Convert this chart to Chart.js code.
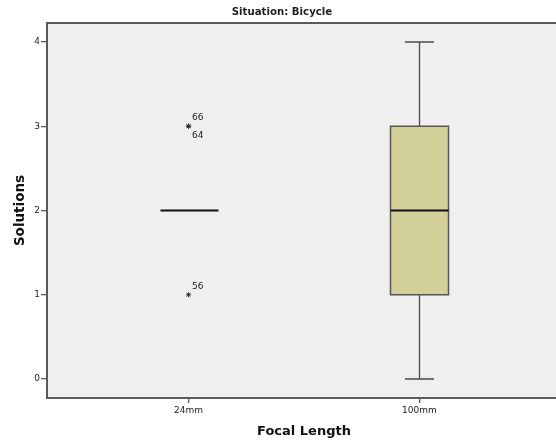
<!DOCTYPE html>
<html>
<head>
<meta charset="utf-8">
<script src="https://cdn.jsdelivr.net/npm/chart.js@4/dist/chart.umd.min.js"></script>
<style>
  html, body { margin: 0; padding: 0; background: #fff; overflow: hidden; }
  #wrap { position: absolute; left: 0; top: 0; width: 566px; height: 441px; }
</style>
</head>
<body>
<div id="wrap"><canvas id="c" width="566" height="441"></canvas></div>
<script>
// Box plot summary per focal length
const categories = ['24mm', '100mm'];
const whiskerLow = [2, 0];
const q1 = [2, 1];
const medians = [2, 2];
const q3 = [2, 3];
const whiskerHigh = [2, 4];

// Outlying cases (category index, value, case number)
const outlierGroup = [0, 0, 0];
const outlierValues = [3, 3, 1];
const outlierCases = ['66', '64', '56'];

const yTicks = [0, 1, 2, 3, 4];

const chartTitle = 'Situation: Bicycle';
const xTitle = 'Focal Length';
const yTitle = 'Solutions';

const FONT = "'DejaVu Sans', 'Liberation Sans', sans-serif";
const BOX_HALF = 29;
const CAP_HALF = 14.5;

const boxPlugin = {
  id: 'boxPlot',
  beforeDraw(chart) {
    const { ctx, chartArea: a } = chart;
    ctx.save();
    ctx.fillStyle = '#efefef';
    ctx.fillRect(a.left, a.top, a.right - a.left, a.bottom - a.top);
    ctx.restore();
  },
  beforeDatasetsDraw(chart) {
    const { ctx, scales: { x, y } } = chart;
    ctx.save();
    categories.forEach((c, i) => {
      const cx = Math.round(x.getPixelForValue(i)) + 0.5;
      const pLo = y.getPixelForValue(whiskerLow[i]);
      const pQ1 = y.getPixelForValue(q1[i]);
      const pMed = y.getPixelForValue(medians[i]);
      const pQ3 = y.getPixelForValue(q3[i]);
      const pHi = y.getPixelForValue(whiskerHigh[i]);
      ctx.strokeStyle = '#4a4a4a';
      ctx.lineWidth = 1.3;
      if (whiskerHigh[i] > q3[i]) {
        ctx.beginPath();
        ctx.moveTo(cx, pQ3); ctx.lineTo(cx, pHi);
        ctx.moveTo(cx - CAP_HALF, pHi); ctx.lineTo(cx + CAP_HALF, pHi);
        ctx.stroke();
      }
      if (whiskerLow[i] < q1[i]) {
        ctx.beginPath();
        ctx.moveTo(cx, pQ1); ctx.lineTo(cx, pLo);
        ctx.moveTo(cx - CAP_HALF, pLo); ctx.lineTo(cx + CAP_HALF, pLo);
        ctx.stroke();
      }
      if (q3[i] > q1[i]) {
        ctx.fillStyle = 'rgb(211,207,152)';
        ctx.fillRect(cx - BOX_HALF, pQ3, BOX_HALF * 2, pQ1 - pQ3);
        ctx.strokeStyle = '#555';
        ctx.lineWidth = 1.5;
        ctx.strokeRect(cx - BOX_HALF, pQ3, BOX_HALF * 2, pQ1 - pQ3);
      }
      ctx.strokeStyle = '#111';
      ctx.lineWidth = 2;
      ctx.beginPath();
      ctx.moveTo(cx - BOX_HALF, pMed); ctx.lineTo(cx + BOX_HALF, pMed);
      ctx.stroke();
    });
    ctx.restore();
  },
  afterDatasetsDraw(chart) {
    const { ctx, chartArea: a, scales: { x, y } } = chart;
    ctx.save();
    // case numbers next to outliers; repeated values stack above/below
    const seen = {};
    ctx.font = '9px ' + FONT;
    ctx.fillStyle = '#222';
    ctx.textBaseline = 'middle';
    ctx.textAlign = 'left';
    outlierCases.forEach((label, i) => {
      const key = outlierGroup[i] + ':' + outlierValues[i];
      const n = seen[key] || 0;
      seen[key] = n + 1;
      const px = x.getPixelForValue(outlierGroup[i]) + 3.5;
      const py = y.getPixelForValue(outlierValues[i]) + (n === 0 ? -8.5 : 9);
      ctx.fillText(label, px, py);
    });
    // frame of the plot area
    ctx.strokeStyle = '#5a5a5a';
    ctx.lineWidth = 2;
    ctx.strokeRect(a.left, a.top, a.right - a.left, a.bottom - a.top);
    // chart heading
    ctx.font = 'bold 10.2px ' + FONT;
    ctx.fillStyle = '#222';
    ctx.textAlign = 'center';
    ctx.fillText(chartTitle, 282, 12.5);
    ctx.restore();
  }
};

new Chart(document.getElementById('c'), {
  type: 'scatter',
  data: {
    datasets: [{
      data: outlierValues.map((v, i) => ({ x: outlierGroup[i], y: v })),
      pointStyle: 'star',
      radius: 2.6,
      borderColor: '#333',
      backgroundColor: '#333',
      borderWidth: 1
    }]
  },
  options: {
    responsive: false,
    animation: false,
    events: [],
    layout: { padding: { left: 0, right: 5, top: 23, bottom: 0 } },
    plugins: { legend: { display: false }, tooltip: { enabled: false } },
    scales: {
      x: {
        type: 'linear',
        min: -0.613,
        max: 1.613,
        afterFit(s) { s.height = 43; },
        afterBuildTicks(s) { s.ticks = categories.map((c, i) => ({ value: i })); },
        ticks: {
          callback: (v) => categories[v],
          font: { family: FONT, size: 9 },
          color: '#222',
          padding: 2,
          maxRotation: 0
        },
        grid: { drawOnChartArea: false, drawTicks: true, tickLength: 5, color: '#5a5a5a', lineWidth: 1.3 },
        border: { display: true, color: '#5a5a5a', width: 2 },
        title: {
          display: true,
          text: xTitle,
          font: { family: FONT, size: 13, weight: 'bold' },
          color: '#111',
          padding: { top: 0, bottom: 2 }
        }
      },
      y: {
        type: 'linear',
        min: -0.2255,
        max: 4.2255,
        afterFit(s) { s.width = 47; },
        afterBuildTicks(s) { s.ticks = yTicks.map(v => ({ value: v })); },
        ticks: {
          font: { family: FONT, size: 9 },
          color: '#222',
          padding: 1
        },
        grid: { drawOnChartArea: false, drawTicks: true, tickLength: 6, color: '#5a5a5a', lineWidth: 1.3 },
        border: { display: true, color: '#5a5a5a', width: 2 },
        title: {
          display: true,
          text: yTitle,
          font: { family: FONT, size: 13.5, weight: 'bold' },
          color: '#111',
          padding: { top: 12, bottom: 0 }
        }
      }
    }
  },
  plugins: [boxPlugin]
});
</script>
</body>
</html>
